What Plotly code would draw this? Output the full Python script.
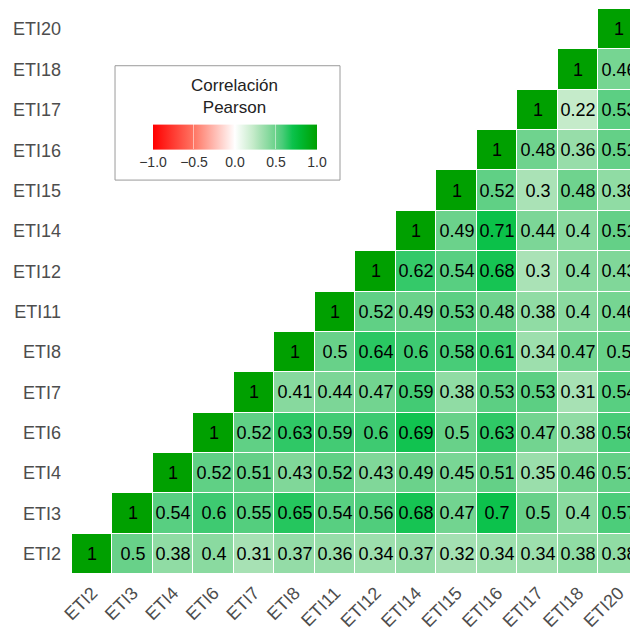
import plotly.graph_objects as go

# Variables in axis order (x left→right, y bottom→top)
variables = ["ETI2", "ETI3", "ETI4", "ETI6", "ETI7", "ETI8", "ETI11",
             "ETI12", "ETI14", "ETI15", "ETI16", "ETI17", "ETI18", "ETI20"]

# Upper-triangle correlations, one row per variable, starting at its diagonal
row_ETI2 = [1, 0.5, 0.38, 0.4, 0.31, 0.37, 0.36, 0.34, 0.37, 0.32, 0.34, 0.34, 0.38, 0.38]
row_ETI3 = [1, 0.54, 0.6, 0.55, 0.65, 0.54, 0.56, 0.68, 0.47, 0.7, 0.5, 0.4, 0.57]
row_ETI4 = [1, 0.52, 0.51, 0.43, 0.52, 0.43, 0.49, 0.45, 0.51, 0.35, 0.46, 0.51]
row_ETI6 = [1, 0.52, 0.63, 0.59, 0.6, 0.69, 0.5, 0.63, 0.47, 0.38, 0.58]
row_ETI7 = [1, 0.41, 0.44, 0.47, 0.59, 0.38, 0.53, 0.53, 0.31, 0.54]
row_ETI8 = [1, 0.5, 0.64, 0.6, 0.58, 0.61, 0.34, 0.47, 0.5]
row_ETI11 = [1, 0.52, 0.49, 0.53, 0.48, 0.38, 0.4, 0.46]
row_ETI12 = [1, 0.62, 0.54, 0.68, 0.3, 0.4, 0.43]
row_ETI14 = [1, 0.49, 0.71, 0.44, 0.4, 0.51]
row_ETI15 = [1, 0.52, 0.3, 0.48, 0.38]
row_ETI16 = [1, 0.48, 0.36, 0.51]
row_ETI17 = [1, 0.22, 0.53]
row_ETI18 = [1, 0.46]
row_ETI20 = [1]

rows = [row_ETI2, row_ETI3, row_ETI4, row_ETI6, row_ETI7, row_ETI8, row_ETI11,
        row_ETI12, row_ETI14, row_ETI15, row_ETI16, row_ETI17, row_ETI18, row_ETI20]

legend_ticks = [-1.0, -0.5, 0.0, 0.5, 1.0]
legend_ticktext = ["\u22121.0", "\u22120.5", "0.0", "0.5", "1.0"]

z = []
txt = []
for i, r in enumerate(rows):
    full = [None] * i + list(r)
    z.append(full)
    txt.append(["" if v is None else f"{v:g}" for v in full])

# red - white - green diverging scale
colorscale = [
    [0.00, "rgb(255,0,0)"],
    [0.25, "rgb(255,118,100)"],
    [0.50, "rgb(255,255,255)"],
    [0.61, "rgb(197,235,202)"],
    [0.65, "rgb(170,226,182)"],
    [0.70, "rgb(138,218,160)"],
    [0.75, "rgb(104,209,137)"],
    [0.79, "rgb(72,204,120)"],
    [0.85, "rgb(12,194,76)"],
    [0.90, "rgb(0,184,50)"],
    [1.00, "rgb(0,160,0)"],
]

FONT = "Liberation Sans, Arial, sans-serif"

fig = go.Figure(go.Heatmap(
    z=z,
    x=variables,
    y=variables,
    text=txt,
    texttemplate="%{text}",
    textfont=dict(family=FONT, size=18, color="black"),
    colorscale=colorscale,
    zmin=-1, zmax=1,
    xgap=1, ygap=1,
    hoverongaps=False,
    colorbar=dict(
        orientation="h",
        x=0.2921, xanchor="center",
        y=0.732, yanchor="middle",
        len=164, lenmode="pixels",
        thickness=25,
        xpad=0, ypad=0,
        outlinewidth=0,
        tickvals=legend_ticks,
        ticktext=legend_ticktext,
        ticks="inside", ticklen=25, tickwidth=1,
        tickcolor="rgba(255,255,255,0.5)",
        tickfont=dict(family=FONT, size=14, color="#333333"),
    ),
))

fig.update_layout(
    width=630, height=631,
    margin=dict(l=72, r=0, t=9, b=54),
    paper_bgcolor="white",
    plot_bgcolor="white",
    font=dict(family=FONT),
    xaxis=dict(
        type="category",
        range=[-0.5, 13.28],
        tickangle=-45,
        showgrid=False, zeroline=False, showline=False,
        ticks="", ticklabelstandoff=4,
        tickfont=dict(family=FONT, size=18, color="#4d4d4d"),
    ),
    yaxis=dict(
        type="category",
        range=[-0.5, 13.5],
        showgrid=False, zeroline=False, showline=False,
        ticks="", ticklabelstandoff=10,
        tickfont=dict(family=FONT, size=18, color="#4d4d4d"),
    ),
    shapes=[dict(
        type="rect", xref="paper", yref="paper",
        x0=0.0771, x1=0.4803, y0=0.6972, y1=0.8996,
        line=dict(color="#9a9a9a", width=1),
        fillcolor="white", layer="below",
    )],
    annotations=[dict(
        text="Correlación<br>Pearson",
        xref="paper", yref="paper",
        x=0.2921, y=0.845, xanchor="center", yanchor="middle",
        showarrow=False, align="center",
        font=dict(family=FONT, size=17, color="#222222"),
    )],
)

fig.write_html("out.html")
